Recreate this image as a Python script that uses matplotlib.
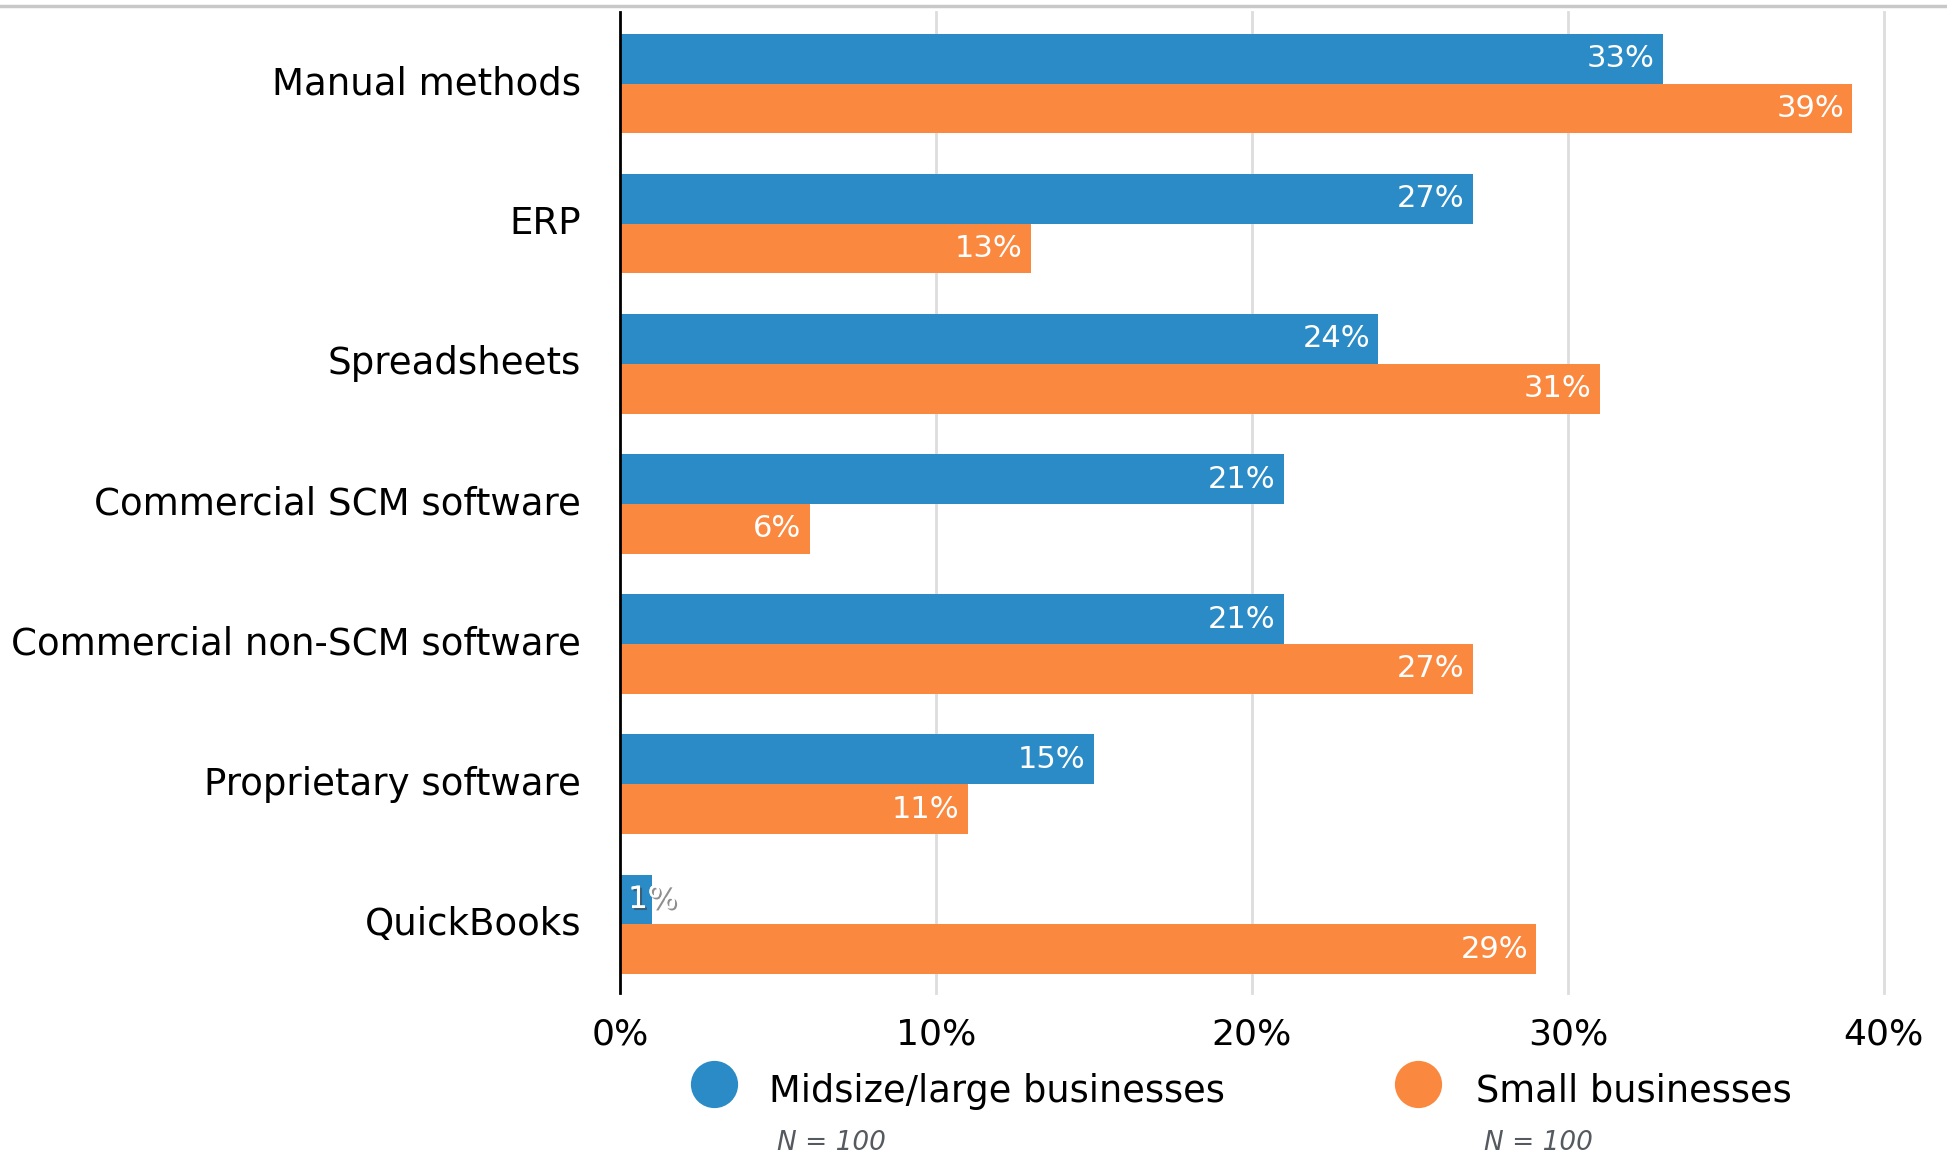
import matplotlib.pyplot as plt
import matplotlib.patheffects as pe
from matplotlib.lines import Line2D
import numpy as np

# Dados do gráfico
categories = ["Manual methods", "ERP", "Spreadsheets", "Commercial SCM software",
              "Commercial non-SCM software", "Proprietary software", "QuickBooks"]
midsize_large = [33, 27, 24, 21, 21, 15, 1]
small = [39, 13, 31, 6, 27, 11, 29]
series_names = ["Midsize/large businesses", "Small businesses"]
sample_sizes = ["N = 100", "N = 100"]
x_ticks = [0, 10, 20, 30, 40]

blue = "#2a8bc6"
orange = "#fb883f"

fig = plt.figure(figsize=(19.47, 11.58), dpi=100)
ax = fig.add_axes([0.3184, 0.1425, 0.6492, 0.8471])

y = np.arange(len(categories))
h = 0.355
bars_b = ax.barh(y - h / 2, midsize_large, height=h, color=blue, zorder=2)
bars_o = ax.barh(y + h / 2, small, height=h, color=orange, zorder=2)

ax.set_xlim(0, 40)
ax.set_ylim(len(categories) - 0.5 - 0.01, -0.5 - 0.01)
ax.set_yticks(y)
ax.set_yticklabels(categories, fontsize=26.7, va="center")
ax.set_xticks(x_ticks)
ax.set_xticklabels([f"{t}%" for t in x_ticks], fontsize=26)
ax.tick_params(axis="both", length=0)
ax.tick_params(axis="y", pad=28)
ax.tick_params(axis="x", pad=18)

for s in ["top", "right", "bottom"]:
    ax.spines[s].set_visible(False)
ax.spines["left"].set_linewidth(2)
ax.spines["left"].set_zorder(3)

# Linhas de grade (a de 40% fica na borda, então sem recorte)
for t in x_ticks[1:]:
    ax.axvline(t, color="#dddddd", lw=2, zorder=1, clip_on=False)

# Rótulos de valor
for bars, vals in [(bars_b, midsize_large), (bars_o, small)]:
    for b, v in zip(bars, vals):
        cy = b.get_y() + b.get_height() / 2
        if v >= 3:
            ax.annotate(f"{v}%", (v, cy), xytext=(-6, 0), textcoords="offset points",
                        ha="right", va="center", color="white", fontsize=22, zorder=4)
        else:
            ax.annotate(f"{v}%", (0, cy), xytext=(6, 0), textcoords="offset points",
                        ha="left", va="center", color="white", fontsize=22, zorder=4,
                        path_effects=[pe.withSimplePatchShadow(offset=(1.5, -1.5),
                                                               shadow_rgbFace="#444444", alpha=0.6),
                                      pe.Normal()])

# Linha cinza no topo
fig.add_artist(Line2D([0, 1], [0.9948, 0.9948], color="#c8c8c8", lw=2.5))

# Legenda
leg_x = [714 / 1947, 1418 / 1947]
txt_x = [769 / 1947, 1476 / 1947]
for i, (name, n, c) in enumerate(zip(series_names, sample_sizes, [blue, orange])):
    fig.add_artist(Line2D([leg_x[i]], [1 - 1084 / 1158], marker="o", markersize=34,
                          color=c, markeredgewidth=0))
    fig.text(txt_x[i], 1 - 1091 / 1158, name, fontsize=26.5, va="center", ha="left")
    fig.text(txt_x[i] + 0.004, 1 - 1143 / 1158, n, fontsize=19, style="italic",
             color="#555a60", va="center", ha="left")

fig.savefig("out.png", dpi=100)
